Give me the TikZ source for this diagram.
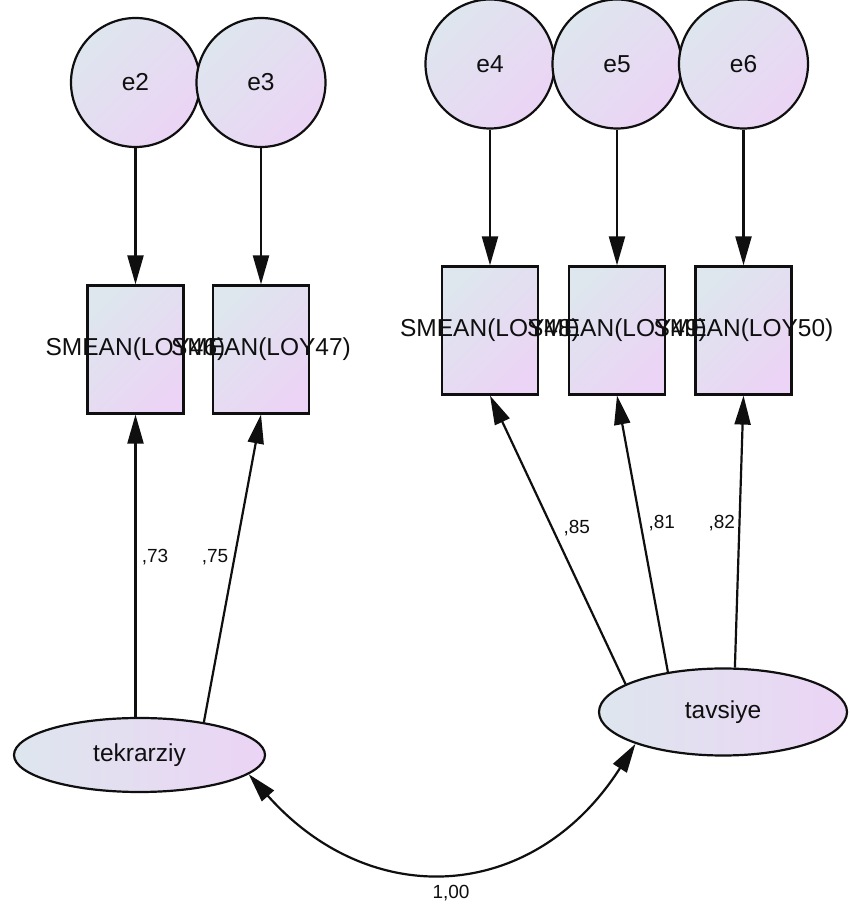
\documentclass[tikz,border=0pt]{standalone}
\usepackage{fontspec}
\setmainfont{Liberation Sans}
\usetikzlibrary{shapes.geometric,arrows.meta}
\definecolor{shadeA}{RGB}{222,230,238}
\definecolor{shadeB}{RGB}{235,212,245}
\definecolor{ink}{RGB}{15,15,15}

\begin{document}
\begin{tikzpicture}[x=1pt,y=1pt,
  every node/.style={font=\fontsize{24.5}{28}\selectfont, text=ink},
  errcirc/.style={circle, draw=ink, line width=2.2pt, minimum size=129pt, inner sep=0pt,
                  top color=shadeA, bottom color=shadeB, shading angle=45},
  obsbox/.style={rectangle, draw=ink, line width=2.2pt, minimum width=96pt, minimum height=128pt,
                 inner sep=0pt, top color=shadeA, bottom color=shadeB, shading angle=45},
  latent/.style={ellipse, draw=ink, line width=2.2pt, inner sep=0pt, left color=shadeA, right color=shadeB},
  regpath/.style={draw=ink, line width=2.2pt, -{Triangle[length=29pt,width=16pt]}},
  covpath/.style={draw=ink, line width=2.2pt, {Triangle[length=29pt,width=16pt]}-{Triangle[length=29pt,width=16pt]}},
  coef/.style={font=\fontsize{19}{22}\selectfont, inner sep=0pt}
]
\useasboundingbox[fill=white] (0,0) rectangle (850,910);

% error terms
\node[errcirc] (e2) at (135.5,827.5) {e2};
\node[errcirc] (e3) at (261,827.5) {e3};
\node[errcirc] (e4) at (490,846) {e4};
\node[errcirc] (e5) at (617,846) {e5};
\node[errcirc] (e6) at (743.5,846) {e6};

% observed variables
\node[obsbox] (b1) at (135.5,560.5) {};
\node[obsbox] (b2) at (261,560.5) {};
\node[obsbox] (b3) at (490,579.5) {};
\node[obsbox] (b4) at (617,579.5) {};
\node[obsbox] (b5) at (743.5,579.5) {};

% latent factors
\node[latent, minimum width=251pt, minimum height=74pt] (tek) at (139.5,155) {tekrarziy};
\node[latent, minimum width=248pt, minimum height=87pt] (tav) at (723,198) {tavsiye};

% variable names, set over all boxes
\node (t46) at (b1) {SMEAN(LOY46)};
\node (t47) at (b2) {SMEAN(LOY47)};
\node (t48) at (b3) {SMEAN(LOY48)};
\node (t49) at (b4) {SMEAN(LOY49)};
\node (t50) at (b5) {SMEAN(LOY50)};

% error paths
\draw[regpath] (e2) -- (b1);
\draw[regpath] (e3) -- (b2);
\draw[regpath] (e4) -- (b3);
\draw[regpath] (e5) -- (b4);
\draw[regpath] (e6) -- (b5);

% factor loadings
\draw[regpath] (b1.south |- tek.north) -- (b1.south);
\draw[regpath] (tek.27) -- (b2.south);
\draw[regpath] (tav.164) -- (b3.south);
\draw[regpath] (tav.144) -- (b4.south);
\draw[regpath] (tav.75) -- (b5.south);

% covariance
\draw[covpath] (tek.-10) .. controls (371,-2) and (534,7) .. (tav.200);

% coefficients
\node[coef] (l73) at (155,353.3) {,73};
\node[coef] (l75) at (215,353.3) {,75};
\node[coef] (l85) at (576.7,381.7) {,85};
\node[coef] (l81) at (661.7,386.7) {,81};
\node[coef] (l82) at (721.7,387.3) {,82};
\node[coef] (l100) at (451,16.7) {1,00};
\end{tikzpicture}
\end{document}
